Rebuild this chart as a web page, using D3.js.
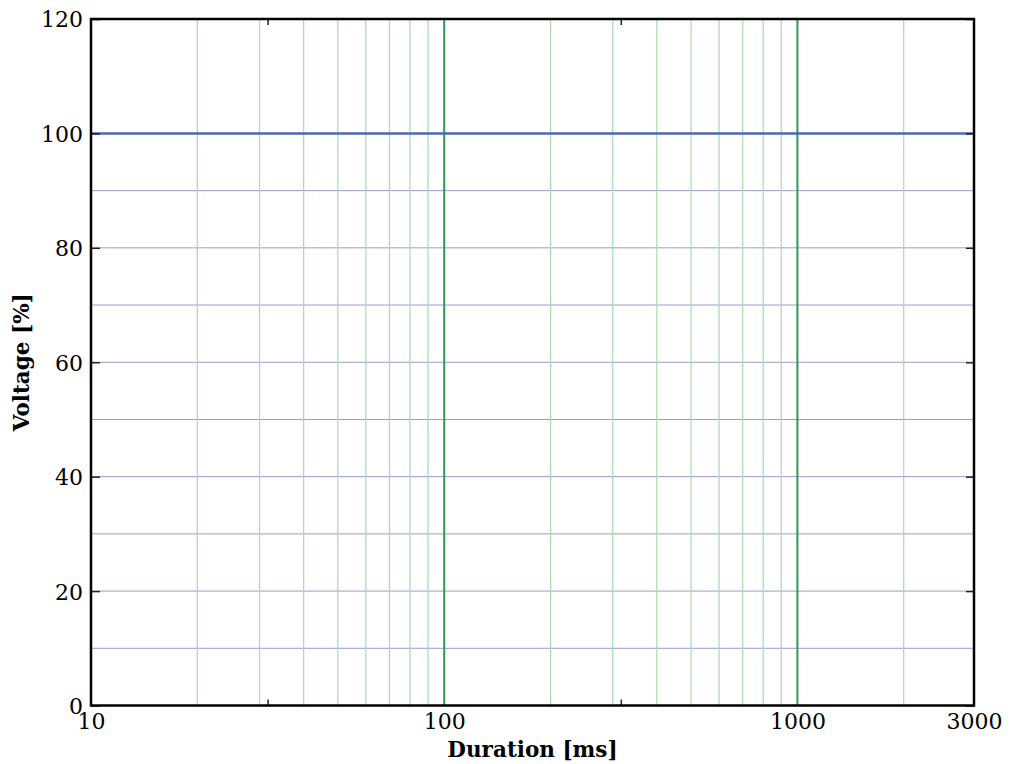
<!DOCTYPE html>
<html>
<head>
<meta charset="utf-8">
<script src="https://cdn.jsdelivr.net/npm/d3@7"></script>
<style>
  html, body { margin: 0; padding: 0; background: #fff; }
  svg { display: block; }
  text { font-family: "DejaVu Serif", serif; fill: #000; }
</style>
</head>
<body>
<svg id="chart" width="1013" height="764"></svg>
<script>
// ---- data ----
const durations = [10, 3162.28];        // ms (full span of the axis)
const voltages = [100, 100];            // %
const xDomain = [10, 3162.28];
const yDomain = [0, 120];
const xTickValues = [10, 100, 1000, 3162.28];
const xTickLabels = ["10", "100", "1000", "3000"];
const xSmallTicks = [31.6228, 316.228];
const yTickValues = [0, 20, 40, 60, 80, 100, 120];
const yGridValues = [10, 20, 30, 40, 50, 60, 70, 80, 90, 100];
const xMajorGrid = [10, 100, 1000];
const xMinorGrid = [20, 30, 40, 50, 60, 70, 80, 90, 200, 300, 400, 500, 600, 700, 800, 900, 2000];
const xLabel = "Duration [ms]";
const yLabel = "Voltage [%]";

// ---- layout ----
const mLeft = 91, mRight = 974, mTop = 19, mBottom = 705.5;
const svg = d3.select("#chart");
const x = d3.scaleLog().domain(xDomain).range([mLeft, mRight]);
const y = d3.scaleLinear().domain(yDomain).range([mBottom, mTop]);

// horizontal grid
svg.append("g").selectAll("line").data(yGridValues).join("line")
  .attr("x1", mLeft).attr("x2", mRight)
  .attr("y1", d => y(d)).attr("y2", d => y(d))
  .attr("stroke", "#9a9ad6").attr("stroke-width", 1);

// vertical minor grid
svg.append("g").selectAll("line").data(xMinorGrid).join("line")
  .attr("x1", d => x(d)).attr("x2", d => x(d))
  .attr("y1", mTop).attr("y2", mBottom)
  .attr("stroke", "#a8dab0").attr("stroke-width", 1.2);

// vertical major grid
svg.append("g").selectAll("line").data(xMajorGrid).join("line")
  .attr("x1", d => x(d)).attr("x2", d => x(d))
  .attr("y1", mTop).attr("y2", mBottom)
  .attr("stroke", "#2f9656").attr("stroke-width", 2);

// data line
svg.append("path")
  .datum(durations.map((d, i) => [d, voltages[i]]))
  .attr("fill", "none")
  .attr("stroke", "#4f64bf")
  .attr("stroke-width", 2.5)
  .attr("d", d3.line().x(d => x(d[0])).y(d => y(d[1])));

// axes with inward ticks
const yAxisL = d3.axisLeft(y).tickValues(yTickValues).tickSizeInner(-9).tickSizeOuter(0).tickPadding(8);
const gL = svg.append("g").attr("transform", `translate(${mLeft},0)`).call(yAxisL);
const yAxisR = d3.axisRight(y).tickValues(yTickValues).tickSizeInner(-8).tickSizeOuter(0).tickFormat("");
const gR = svg.append("g").attr("transform", `translate(${mRight},0)`).call(yAxisR);

const xAxisB = d3.axisBottom(x).tickValues(xTickValues)
  .tickFormat((d, i) => xTickLabels[i]).tickSizeInner(0).tickSizeOuter(0).tickPadding(8);
const gB = svg.append("g").attr("transform", `translate(0,${mBottom})`).call(xAxisB);

const xAxisSmallB = d3.axisBottom(x).tickValues(xSmallTicks).tickFormat("").tickSizeInner(-6).tickSizeOuter(0);
const gSB = svg.append("g").attr("transform", `translate(0,${mBottom})`).call(xAxisSmallB);
const xAxisSmallT = d3.axisTop(x).tickValues(xSmallTicks).tickFormat("").tickSizeInner(-6).tickSizeOuter(0);
const gST = svg.append("g").attr("transform", `translate(0,${mTop})`).call(xAxisSmallT);

[gL, gR, gB, gSB, gST].forEach(g => {
  g.select(".domain").remove();
  g.selectAll(".tick line").attr("stroke", "#222").attr("stroke-width", 1.5);
  g.selectAll("text").attr("font-family", "DejaVu Serif").attr("font-size", 22).attr("fill", "#000");
});
gL.selectAll(".tick text").attr("dy", "0.36em");
gB.selectAll(".tick text").attr("dy", "0.72em");

// frame
svg.append("rect")
  .attr("x", mLeft).attr("y", mTop)
  .attr("width", mRight - mLeft).attr("height", mBottom - mTop)
  .attr("fill", "none").attr("stroke", "#000").attr("stroke-width", 2.5);

// axis labels
svg.append("text")
  .attr("x", (mLeft + mRight) / 2).attr("y", 757)
  .attr("text-anchor", "middle")
  .attr("font-size", 21.5).attr("font-weight", "bold")
  .text(xLabel);

svg.append("text")
  .attr("transform", `translate(29,${(mTop + mBottom) / 2}) rotate(-90)`)
  .attr("text-anchor", "middle")
  .attr("font-size", 21.5).attr("font-weight", "bold")
  .text(yLabel);
</script>
</body>
</html>
